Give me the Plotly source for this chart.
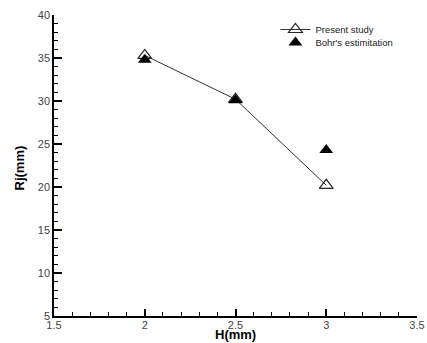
import plotly.graph_objects as go

# Jet radius versus gap height
h_mm = [2.0, 2.5, 3.0]
rj_present = [35.3, 30.2, 20.2]
rj_bohr = [34.8, 30.1, 24.3]

x_ticks = [1.5, 2, 2.5, 3, 3.5]
x_tick_text = ["1.5", "2", "2.5", "3", "3.5"]
y_ticks = [5, 10, 15, 20, 25, 30, 35, 40]

fig = go.Figure()
fig.add_trace(go.Scatter(
    x=h_mm, y=rj_present, mode="lines+markers", name="Present study",
    line=dict(color="#333333", width=1),
    marker=dict(symbol="triangle-up-open", size=12, color="#222222",
                line=dict(width=1.2, color="#222222")),
    legend="legend",
))
fig.add_trace(go.Scatter(
    x=h_mm, y=rj_bohr, mode="markers", name="Bohr's estimitation",
    marker=dict(symbol="triangle-up", size=12, color="black"),
    legend="legend2",
))

axis_font = dict(family="Arial, Liberation Sans, sans-serif", size=11, color="#444444")
title_font = dict(family="Arial, Liberation Sans, sans-serif", size=13, color="black")
legend_font = dict(family="Arial, Liberation Sans, sans-serif", size=9.5, color="#222222")

fig.update_layout(
    width=427, height=343,
    margin=dict(l=54, r=10, t=15, b=27),
    paper_bgcolor="white", plot_bgcolor="white",
    showlegend=True,
    legend=dict(x=0.61, y=1.0, xanchor="left", yanchor="top",
                bgcolor="rgba(0,0,0,0)", font=legend_font),
    legend2=dict(x=0.61, y=0.957, xanchor="left", yanchor="top",
                 bgcolor="rgba(0,0,0,0)", font=legend_font),
    xaxis=dict(
        range=[1.5, 3.5], tickvals=x_ticks, ticktext=x_tick_text, automargin=False,
        showgrid=False, zeroline=False, showline=True, linecolor="black", linewidth=1.5,
        ticks="inside", ticklen=7, tickwidth=1.5, tickcolor="black",
        minor=dict(dtick=0.1, ticks="inside", ticklen=4, tickwidth=1, tickcolor="black"),
        tickfont=axis_font, ticklabelstandoff=-2,
    ),
    yaxis=dict(
        range=[5, 40], tickvals=y_ticks, automargin=False,
        showgrid=False, zeroline=False, showline=True, linecolor="black", linewidth=1.5,
        ticks="inside", ticklen=8, tickwidth=1.5, tickcolor="black",
        minor=dict(dtick=1, ticks="inside", ticklen=4, tickwidth=1, tickcolor="black"),
        tickfont=axis_font,
    ),
    annotations=[
        dict(text="<b>H(mm)</b>", xref="paper", yref="paper", x=0.5, y=-0.0897,
             xanchor="center", yanchor="bottom", showarrow=False, font=title_font,
             borderpad=0),
        dict(text="<b>Rj(mm)</b>", xref="paper", yref="paper", x=-0.094, y=0.493,
             xanchor="center", yanchor="middle", textangle=-90, showarrow=False,
             font=title_font),
    ],
)

fig.write_html("out.html")
